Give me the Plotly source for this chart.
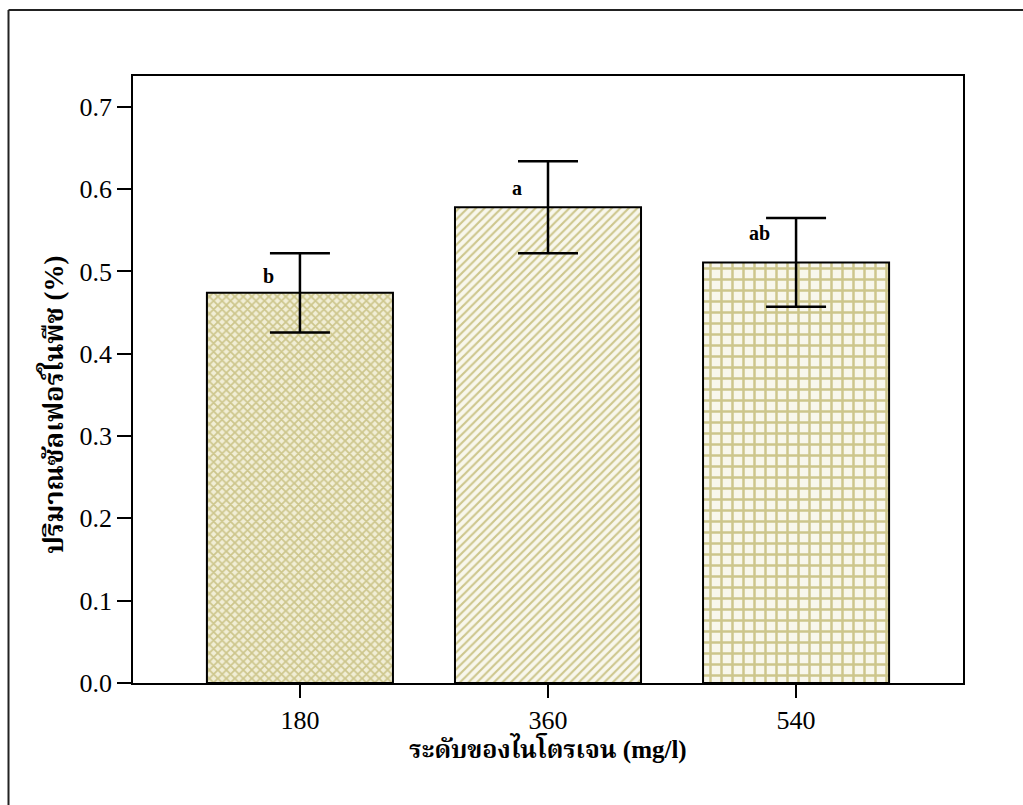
import plotly.graph_objects as go

categories = ["180", "360", "540"]
values = [0.474, 0.578, 0.511]
errors = [0.048, 0.056, 0.054]
letters = ["b", "a", "ab"]
letter_y = [0.495, 0.601, 0.547]
letter_dx = [-0.125, -0.125, -0.149]
patterns = ["x", "/", "+"]
pattern_sizes = [6, 6, 11]
pattern_solidity = [0.5, 0.35, 0.4]
pattern_bg = ["#f1eed6", "#f8f7ec", "#f8f7ec"]

W, H = 1023, 805
L, R, T, B = 133, 60, 76, 122

fig = go.Figure()
for i, c in enumerate(categories):
    fig.add_trace(go.Bar(
        x=[i], y=[values[i]], width=0.75,
        marker=dict(
            color="white",
            line=dict(color="black", width=2),
            pattern=dict(shape=patterns[i], fgcolor="#cdc68c", bgcolor=pattern_bg[i],
                         size=pattern_sizes[i], solidity=pattern_solidity[i],
                         fillmode="replace"),
        ),
        error_y=dict(type="data", array=[errors[i]], visible=True,
                     color="black", thickness=2.5, width=30),
        showlegend=False, hoverinfo="skip",
    ))

for i, t in enumerate(letters):
    fig.add_annotation(x=i + letter_dx[i], y=letter_y[i], text=f"<b>{t}</b>",
                       showarrow=False, xref="x", yref="y",
                       xanchor="center", yanchor="middle",
                       font=dict(family="Liberation Serif", size=20, color="black"))

pw = W - L - R
ph = H - T - B
x0 = (8.5 - L) / pw
y1 = (H - B - 10) / ph
fig.add_shape(type="line", xref="paper", yref="paper", x0=x0, x1=x0, y0=-1, y1=y1,
              line=dict(color="#222", width=2))
fig.add_shape(type="line", xref="paper", yref="paper", x0=x0, x1=2, y0=y1, y1=y1,
              line=dict(color="#222", width=2))

thai_font = "Liberation Serif, Noto Serif Thai, Noto Sans Thai, serif"
fig.add_annotation(text="<b>ระดับของไนโตรเจน (mg/l)</b>", xref="paper", yref="paper",
                   x=0.5, y=(H - B - 748) / ph, showarrow=False,
                   xanchor="center", yanchor="middle",
                   font=dict(size=25, family=thai_font, color="black"))
fig.add_annotation(text="<b>ปริมาณซัลเฟอร์ในพืช (%)</b>", xref="paper", yref="paper",
                   x=(52 - L) / pw, y=(H - B - 405) / ph, showarrow=False, textangle=-90,
                   xanchor="center", yanchor="middle",
                   font=dict(size=27, family=thai_font, color="black"))

fig.update_layout(
    width=W, height=H,
    margin=dict(l=L, r=R, t=T, b=B),
    paper_bgcolor="white", plot_bgcolor="white",
    font=dict(family="Liberation Serif, serif", color="black"),
    xaxis=dict(
        tickvals=[0, 1, 2], ticktext=categories,
        range=[-0.673, 2.673],
        showline=True, mirror=True, linecolor="black", linewidth=1.5,
        ticks="outside", ticklen=13, tickwidth=1.5, tickcolor="black",
        tickfont=dict(size=26, family="Liberation Serif"),
        showgrid=False, zeroline=False,
    ),
    yaxis=dict(
        range=[0, 0.7375],
        tickvals=[0, 0.1, 0.2, 0.3, 0.4, 0.5, 0.6, 0.7],
        ticktext=["0.0", "0.1", "0.2", "0.3", "0.4", "0.5", "0.6", "0.7"],
        showline=True, mirror=True, linecolor="black", linewidth=1.5,
        ticks="outside", ticklen=14, tickwidth=2, tickcolor="black",
        tickfont=dict(size=26, family="Liberation Serif"),
        showgrid=False, zeroline=False,
    ),
)

fig.write_html("out.html")
